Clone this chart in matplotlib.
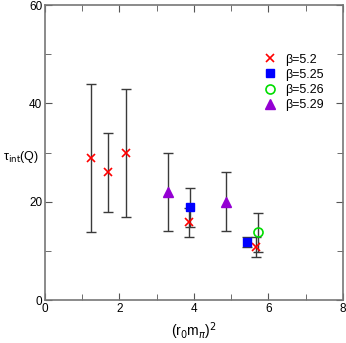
import numpy as np
import matplotlib
matplotlib.use("Agg")
import matplotlib.pyplot as plt
from matplotlib.ticker import MultipleLocator

plt.rcParams['font.family'] = ['Liberation Sans', 'DejaVu Sans']

# beta = 5.2
x52 = [1.23, 1.68, 2.17, 3.87, 5.66]
y52 = [28.9, 26.0, 29.9, 15.8, 10.85]
e52 = [15.0, 8.0, 13.0, 2.9, 2.0]
# beta = 5.25
x525 = [3.89, 5.43]
y525 = [18.9, 11.9]
e525 = [4.0, 1.0]
# beta = 5.26
x526 = [5.71]
y526 = [13.8]
e526 = [4.0]
# beta = 5.29
x529 = [3.31, 4.85]
y529 = [22.0, 20.0]
e529 = [8.0, 6.0]

fig = plt.figure(figsize=(3.46, 3.43), dpi=100)
ax = fig.add_axes([0.130, 0.125, 0.861, 0.860])

ebkw = dict(ls='none', ecolor='#3a3a3a', elinewidth=1.0, capsize=3.5, capthick=1.0)
ax.errorbar(x52, y52, yerr=e52, **ebkw, zorder=1)
ax.errorbar(x525, y525, yerr=e525, **ebkw, zorder=1)
ax.errorbar(x526, y526, yerr=e526, **ebkw, zorder=1)
ax.errorbar(x529, y529, yerr=e529, **ebkw, zorder=1)

ax.plot(x52, y52, 'x', color='red', ms=5.5, mew=1.2, ls='none', label='β=5.2', zorder=3)
ax.plot(x525, y525, 's', color='blue', ms=5.5, ls='none', label='β=5.25', zorder=3)
ax.plot(x526, y526, 'o', mfc='none', mec='#00dd00', mew=1.2, ms=6.5, ls='none', label='β=5.26', zorder=3)
ax.plot(x529, y529, '^', color='#9400d3', ms=6.5, ls='none', label='β=5.29', zorder=3)

ax.set_xlim(0, 8)
ax.set_ylim(0, 60)
ax.xaxis.set_major_locator(MultipleLocator(2))
ax.xaxis.set_minor_locator(MultipleLocator(1))
ax.yaxis.set_major_locator(MultipleLocator(20))
ax.yaxis.set_minor_locator(MultipleLocator(10))
ax.tick_params(which='both', direction='in', top=True, right=True, color='#555555',
               labelsize=8.5, pad=2)
ax.tick_params(which='major', length=5)
ax.tick_params(which='minor', length=4)
for s in ax.spines.values():
    s.set_color('#777777')
    s.set_linewidth(1.2)

ax.set_xlabel(r'(r$_0$m$_\pi$)$^2$', fontsize=10, labelpad=4)
fig.text(0.010, 0.542, r'τ$_{\rm int}$(Q)', fontsize=9, ha='left', va='center')

ax.legend(loc='upper right', bbox_to_anchor=(0.965, 0.865), frameon=False, fontsize=9,
          handlelength=1.0, handletextpad=0.7, labelspacing=0.25, borderpad=0.2)

fig.savefig('out.png', dpi=100)
